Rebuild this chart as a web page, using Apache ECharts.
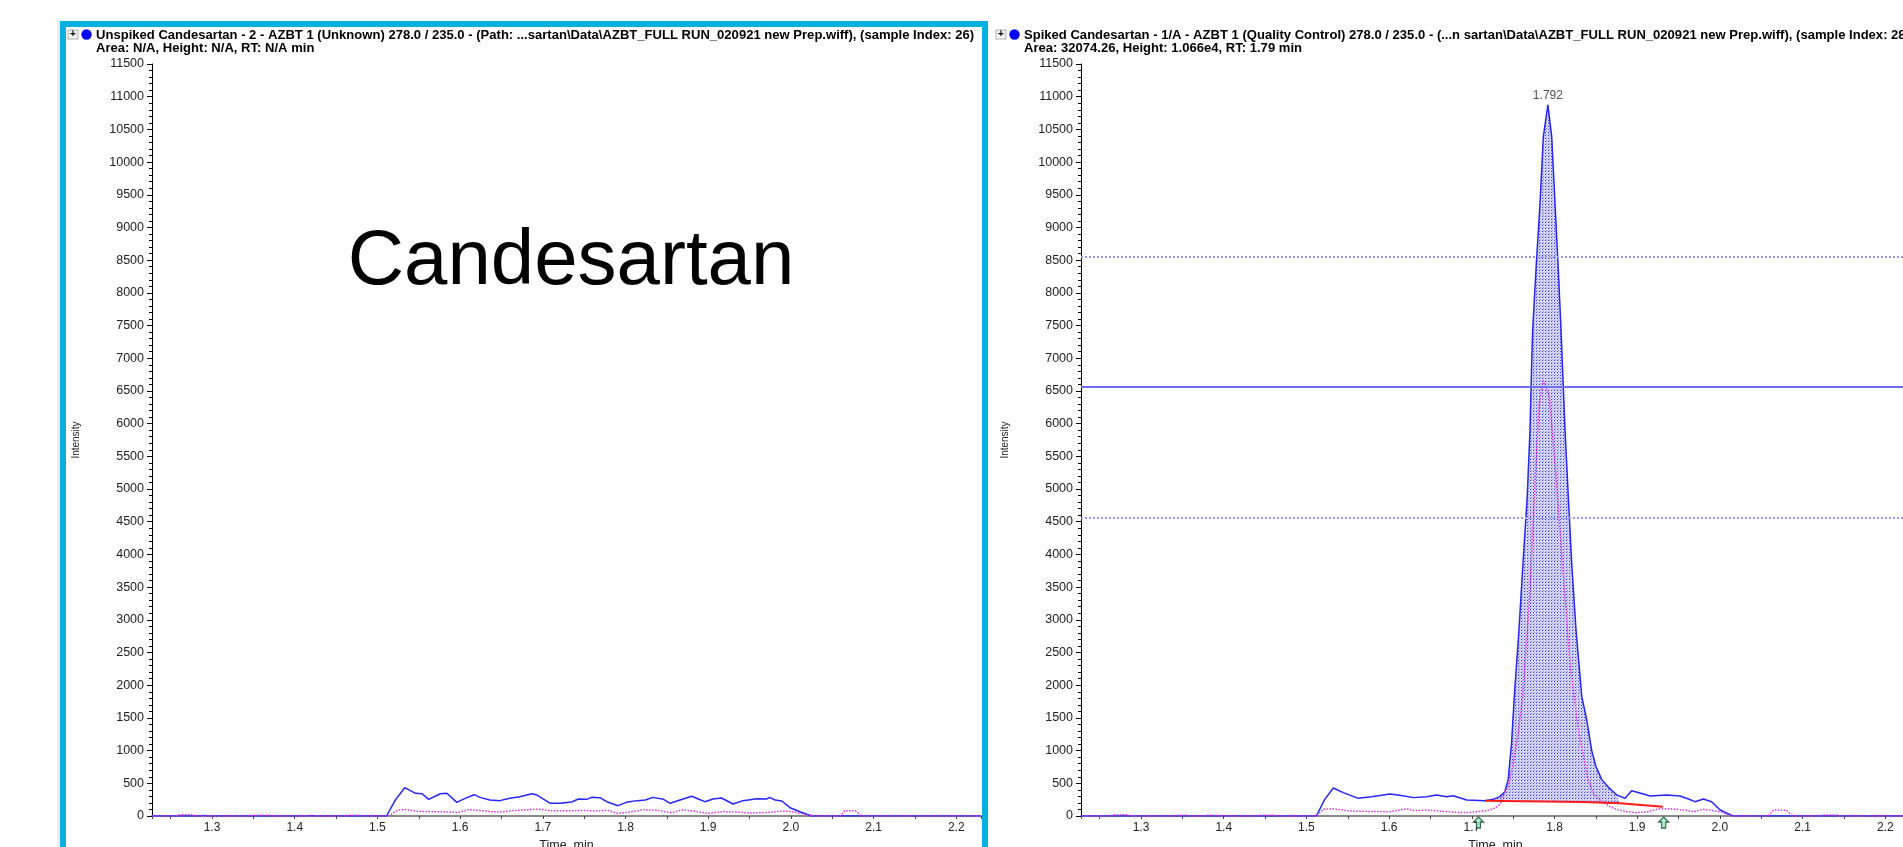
<!DOCTYPE html>
<html>
<head>
<meta charset="utf-8">
<script src="https://cdn.jsdelivr.net/npm/echarts@6/dist/echarts.min.js"></script>
<style>
  html, body { margin: 0; padding: 0; background: #fff; overflow: hidden; }
  #chart { width: 1903px; height: 847px; }
</style>
</head>
<body>
<div id="chart"></div>
<script>
// Time window shown on both chromatograms (min)
const timeRange = [1.2274, 2.2299];
// Intensity scale (cps)
const intensityScale = { min: 0, max: 11500, step: 500 };

// Unspiked sample: quantifier (blue) and qualifier (magenta) traces, [time, intensity]
const unspikedQuant = [
  [1.2274, 0], [1.285, 0], [1.29, 8], [1.295, 0], [1.415, 0], [1.42, 8], [1.425, 0],
  [1.511, 0], [1.522, 250], [1.533, 433], [1.546, 347], [1.554, 340], [1.562, 255],
  [1.576, 340], [1.584, 347], [1.596, 209], [1.606, 270], [1.617, 326], [1.624, 285],
  [1.636, 245], [1.648, 235], [1.660, 270], [1.672, 295], [1.687, 340], [1.693, 320],
  [1.709, 194], [1.721, 194], [1.735, 214], [1.743, 260], [1.753, 255], [1.759, 285],
  [1.769, 280], [1.779, 209], [1.791, 158], [1.801, 209], [1.814, 235], [1.824, 245],
  [1.833, 285], [1.846, 255], [1.854, 194], [1.866, 245], [1.880, 301], [1.888, 260],
  [1.896, 219], [1.906, 260], [1.916, 275], [1.930, 184], [1.942, 235], [1.959, 265],
  [1.971, 260], [1.974, 285], [1.981, 245], [1.989, 230], [1.999, 127], [2.011, 66],
  [2.025, 0], [2.2299, 0]
];
const unspikedQual = [
  [1.2274, 0], [1.255, 0], [1.262, 22], [1.275, 22], [1.282, 0], [1.345, 0], [1.35, 12],
  [1.37, 12], [1.375, 0], [1.46, 0], [1.465, 10], [1.48, 10], [1.485, 0], [1.513, 0],
  [1.525, 92], [1.535, 100], [1.548, 72], [1.565, 68], [1.585, 62], [1.597, 55],
  [1.61, 95], [1.622, 88], [1.635, 70], [1.648, 60], [1.66, 78], [1.675, 92],
  [1.695, 105], [1.71, 82], [1.73, 78], [1.75, 85], [1.765, 75], [1.778, 88],
  [1.79, 42], [1.80, 52], [1.822, 95], [1.84, 85], [1.855, 50], [1.868, 92],
  [1.882, 78], [1.90, 40], [1.918, 68], [1.935, 60], [1.95, 45], [1.97, 52],
  [1.99, 75], [2.00, 70], [2.02, 18], [2.03, 0], [2.06, 0], [2.065, 80], [2.078, 80],
  [2.085, 0], [2.2299, 0]
];

// Spiked sample: quantifier (blue) and qualifier (magenta) traces, [time, intensity]
const spikedQuant = [
  [1.2274, 0], [1.512, 0], [1.522, 250], [1.5325, 428], [1.5446, 357], [1.5627, 270],
  [1.579, 296], [1.601, 337], [1.613, 316], [1.6293, 281], [1.6454, 296], [1.6575, 321],
  [1.6695, 296], [1.6776, 311], [1.6938, 245], [1.716, 234], [1.726, 255], [1.734, 296],
  [1.740, 372], [1.744, 560], [1.748, 1100], [1.7514, 1825], [1.757, 2845], [1.7619, 3864],
  [1.767, 4883], [1.7704, 5903], [1.7724, 6923], [1.7736, 7432], [1.7776, 8350],
  [1.7825, 9374], [1.7865, 10389], [1.792, 10875], [1.7966, 10389], [1.8006, 9374],
  [1.8046, 8350], [1.8079, 7432], [1.8127, 5903], [1.8167, 4883], [1.8208, 3864],
  [1.826, 2845], [1.833, 1825], [1.839, 1468], [1.845, 1000], [1.850, 760], [1.857, 560],
  [1.866, 430], [1.8752, 321], [1.8853, 270], [1.8934, 387], [1.9075, 337], [1.9156, 306],
  [1.9357, 321], [1.9518, 306], [1.962, 260], [1.970, 219], [1.980, 260], [1.990, 219],
  [2.0003, 92], [2.016, 0], [2.2299, 0]
];
const spikedQual = [
  [1.2274, 0], [1.262, 0], [1.268, 18], [1.282, 18], [1.29, 0], [1.34, 0], [1.345, 12],
  [1.355, 12], [1.36, 0], [1.375, 0], [1.38, 10], [1.39, 10], [1.395, 0], [1.44, 0],
  [1.445, 12], [1.46, 12], [1.465, 0], [1.5124, 0], [1.52, 102], [1.5325, 112],
  [1.5527, 76], [1.573, 71], [1.601, 66], [1.613, 92], [1.621, 112], [1.631, 82],
  [1.645, 92], [1.661, 76], [1.682, 56], [1.694, 51], [1.706, 66], [1.718, 82],
  [1.726, 112], [1.732, 153], [1.736, 219], [1.740, 372], [1.744, 450], [1.750, 800],
  [1.7565, 1300], [1.7615, 1825], [1.770, 3354], [1.7776, 5394], [1.7815, 6300],
  [1.7865, 6657], [1.7937, 6412], [1.8006, 5394], [1.8066, 4374], [1.8127, 3354],
  [1.8187, 2335], [1.8288, 1315], [1.8397, 601], [1.847, 347], [1.855, 245], [1.867, 143],
  [1.875, 102], [1.887, 66], [1.899, 51], [1.911, 61], [1.927, 112], [1.939, 112],
  [1.956, 92], [1.968, 66], [1.980, 102], [1.992, 82], [2.0, 66], [2.015, 0], [2.058, 0],
  [2.065, 90], [2.08, 90], [2.088, 0], [2.12, 0], [2.125, 15], [2.14, 15], [2.145, 0],
  [2.2299, 0]
];

// Integration baseline under the spiked peak, [time, intensity]
const spikedBaseline = [[1.716, 234], [1.835, 214], [1.879, 194], [1.931, 143]];
// Part of the peak that is shaded as integrated area (min)
const integrationWindow = [1.716, 1.879];
// Apex of the spiked peak [RT, intensity]
const spikedApex = [1.792, 10875];
// Peak start / end markers (min)
const peakMarkers = [1.708, 1.932];
// Ion-ratio reference levels
const ratioLevels = [8560, 6560, 4560];

const panelTitles = {
  unspiked: [
    'Unspiked Candesartan - 2 - AZBT 1 (Unknown) 278.0 / 235.0 - (Path: ...sartan\\Data\\AZBT_FULL RUN_020921 new Prep.wiff), (sample Index: 26)',
    'Area: N/A, Height: N/A, RT: N/A min'
  ],
  spiked: [
    'Spiked Candesartan - 1/A - AZBT 1 (Quality Control) 278.0 / 235.0 - (...n sartan\\Data\\AZBT_FULL RUN_020921 new Prep.wiff), (sample Index: 28)',
    'Area: 32074.26, Height: 1.066e4, RT: 1.79 min'
  ]
};
const analyteName = 'Candesartan';

const FONT = '"Liberation Sans", Arial, Helvetica, sans-serif';
const TITLE_FONT = 'bold 13.5px ' + FONT;

// Header text is rendered condensed
const measureCtx = document.createElement('canvas').getContext('2d');
measureCtx.font = TITLE_FONT;
const titleScale = 878 / measureCtx.measureText(panelTitles.unspiked[0]).width;

// Dotted fill used for the integrated area
function makeHatch() {
  const c = document.createElement('canvas');
  c.width = 3; c.height = 3;
  const g = c.getContext('2d');
  g.fillStyle = '#d6d6fa'; g.fillRect(0, 0, 3, 3);
  g.fillStyle = '#3838ee'; g.fillRect(0, 0, 1, 1);
  g.fillStyle = '#9494f2'; g.fillRect(1, 2, 1, 1);
  return c;
}
const hatch = makeHatch();

function timeAxis(gridIndex) {
  return {
    type: 'value', gridIndex,
    min: timeRange[0], max: timeRange[1], splitNumber: 10,
    name: 'Time, min', nameLocation: 'middle', nameGap: 20,
    nameTextStyle: { fontSize: 12.5, color: '#222', fontFamily: FONT },
    axisLine: { onZero: false, lineStyle: { color: '#8a8a8a', width: 2 } },
    axisTick: { show: true, length: 3, lineStyle: { color: '#444' } },
    minorTick: { show: true, splitNumber: 2, length: 3, lineStyle: { color: '#444' } },
    axisLabel: {
      showMinLabel: false, showMaxLabel: false,
      fontSize: 12, color: '#222', fontFamily: FONT, margin: 6,
      formatter: v => Math.abs(v * 10 - Math.round(v * 10)) < 1e-6 ? v.toFixed(1) : ''
    },
    splitLine: { show: false }
  };
}

function intensityAxis(gridIndex) {
  return {
    type: 'value', gridIndex,
    min: intensityScale.min, max: intensityScale.max, interval: intensityScale.step,
    name: 'Intensity', nameLocation: 'middle', nameGap: 71, nameRotate: 90,
    nameTextStyle: { fontSize: 10, color: '#222', fontFamily: FONT },
    axisLine: { show: true, lineStyle: { color: '#000', width: 1 } },
    axisTick: { show: true, length: 5, lineStyle: { color: '#000' } },
    minorTick: { show: true, splitNumber: 5, length: 3, lineStyle: { color: '#000' } },
    axisLabel: { fontSize: 12.5, color: '#222', fontFamily: FONT, margin: 8, formatter: v => String(v) },
    splitLine: { show: false }
  };
}

function trace(axisIndex, data, color, dotted, z) {
  return {
    type: 'line', xAxisIndex: axisIndex, yAxisIndex: axisIndex, data,
    showSymbol: false, symbol: 'none', z, silent: true,
    lineStyle: { color, width: dotted ? 1.5 : 1.5, type: dotted ? 'dotted' : 'solid' }
  };
}

function header(x, lines) {
  return [
    { type: 'rect', shape: { x: x - 28, y: 30, width: 10, height: 9 },
      style: { fill: '#f3f3f3', stroke: '#b0b0b0', lineWidth: 1 } },
    { type: 'text', x: x - 23, y: 34.5,
      style: { text: '+', font: 'bold 10px ' + FONT, fill: '#000', align: 'center', verticalAlign: 'middle' } },
    { type: 'circle', shape: { cx: x - 9.5, cy: 34.5, r: 5.2 }, style: { fill: '#0000ff' } },
    { type: 'text', x, y: 35, scaleX: titleScale,
      style: { text: lines[0], font: TITLE_FONT, fill: '#000', align: 'left', verticalAlign: 'middle' } },
    { type: 'text', x, y: 48, scaleX: titleScale,
      style: { text: lines[1], font: TITLE_FONT, fill: '#000', align: 'left', verticalAlign: 'middle' } }
  ];
}

const chart = echarts.init(document.getElementById('chart'), null, { renderer: 'canvas' });

chart.setOption({
  animation: false,
  backgroundColor: '#ffffff',
  textStyle: { fontFamily: FONT },
  grid: [
    { left: 152, top: 64, width: 829, height: 752, outerBoundsMode: 'none', containLabel: false },
    { left: 1081, top: 64, width: 829, height: 752, outerBoundsMode: 'none', containLabel: false }
  ],
  xAxis: [timeAxis(0), timeAxis(1)],
  yAxis: [intensityAxis(0), intensityAxis(1)],
  series: [
    trace(0, unspikedQuant, '#2626f5', false, 3),
    trace(0, unspikedQual, '#e830e8', true, 4),
    {
      // integrated peak area between trace and baseline
      type: 'custom', xAxisIndex: 1, yAxisIndex: 1, z: 1, silent: true, clip: true,
      data: [spikedApex],
      renderItem: (params, api) => {
        const [a, b] = integrationWindow;
        const top = spikedQuant.filter(p => p[0] >= a && p[0] <= b).map(p => api.coord(p));
        const bottom = spikedBaseline.filter(p => p[0] >= a && p[0] <= b).reverse().map(p => api.coord(p));
        return {
          type: 'polygon',
          shape: { points: top.concat(bottom) },
          style: { fill: { image: hatch, repeat: 'repeat' }, stroke: null }
        };
      }
    },
    Object.assign(trace(1, spikedQuant, '#2626f5', false, 3), {
      markLine: {
        silent: true, symbol: 'none', animation: false,
        label: { show: false },
        data: ratioLevels.map((v, i) => ({
          yAxis: v,
          lineStyle: i === 1
            ? { type: 'solid', color: '#6e6ef2', width: 2 }
            : { type: 'dotted', color: '#9a9af4', width: 2 }
        }))
      }
    }),
    trace(1, spikedQual, '#e830e8', true, 4),
    {
      type: 'line', xAxisIndex: 1, yAxisIndex: 1, data: spikedBaseline, z: 5,
      showSymbol: false, symbol: 'none', silent: true,
      lineStyle: { color: '#ff1a1a', width: 2 }
    },
    {
      // retention-time label at the apex
      type: 'scatter', xAxisIndex: 1, yAxisIndex: 1, data: [spikedApex], z: 6,
      symbolSize: 0, silent: true, clip: false,
      label: {
        show: true, position: 'top', distance: 3,
        formatter: p => p.value[0].toFixed(3),
        fontSize: 12, color: '#222', fontFamily: FONT
      }
    },
    {
      // peak start / end markers
      type: 'scatter', xAxisIndex: 1, yAxisIndex: 1, z: 7, silent: true, clip: false,
      data: peakMarkers.map(t => [t, 0]),
      symbol: 'path://M5,0 L10,5 L7,5 L7,11 L3,11 L3,5 L0,5 Z',
      symbolSize: [10, 11], symbolOffset: [0, 6.5],
      itemStyle: { color: '#9eeec4', borderColor: '#0e4426', borderWidth: 1.2 }
    }
  ],
  graphic: [
    { type: 'rect', z: 100, shape: { x: 57, y: 20, width: 3, height: 827 }, style: { fill: '#ececec' } },
    { type: 'rect', z: 100, shape: { x: 63, y: 24, width: 922, height: 900 },
      style: { fill: null, stroke: '#08b0e0', lineWidth: 6 } },
    ...header(96, panelTitles.unspiked).map(e => Object.assign(e, { z: 101 })),
    ...header(1024, panelTitles.spiked).map(e => Object.assign(e, { z: 101 })),
    { type: 'text', z: 101, x: 571, y: 262,
      style: { text: analyteName, font: '78px ' + FONT, fill: '#000', align: 'center', verticalAlign: 'middle' } }
  ]
});
</script>
</body>
</html>
